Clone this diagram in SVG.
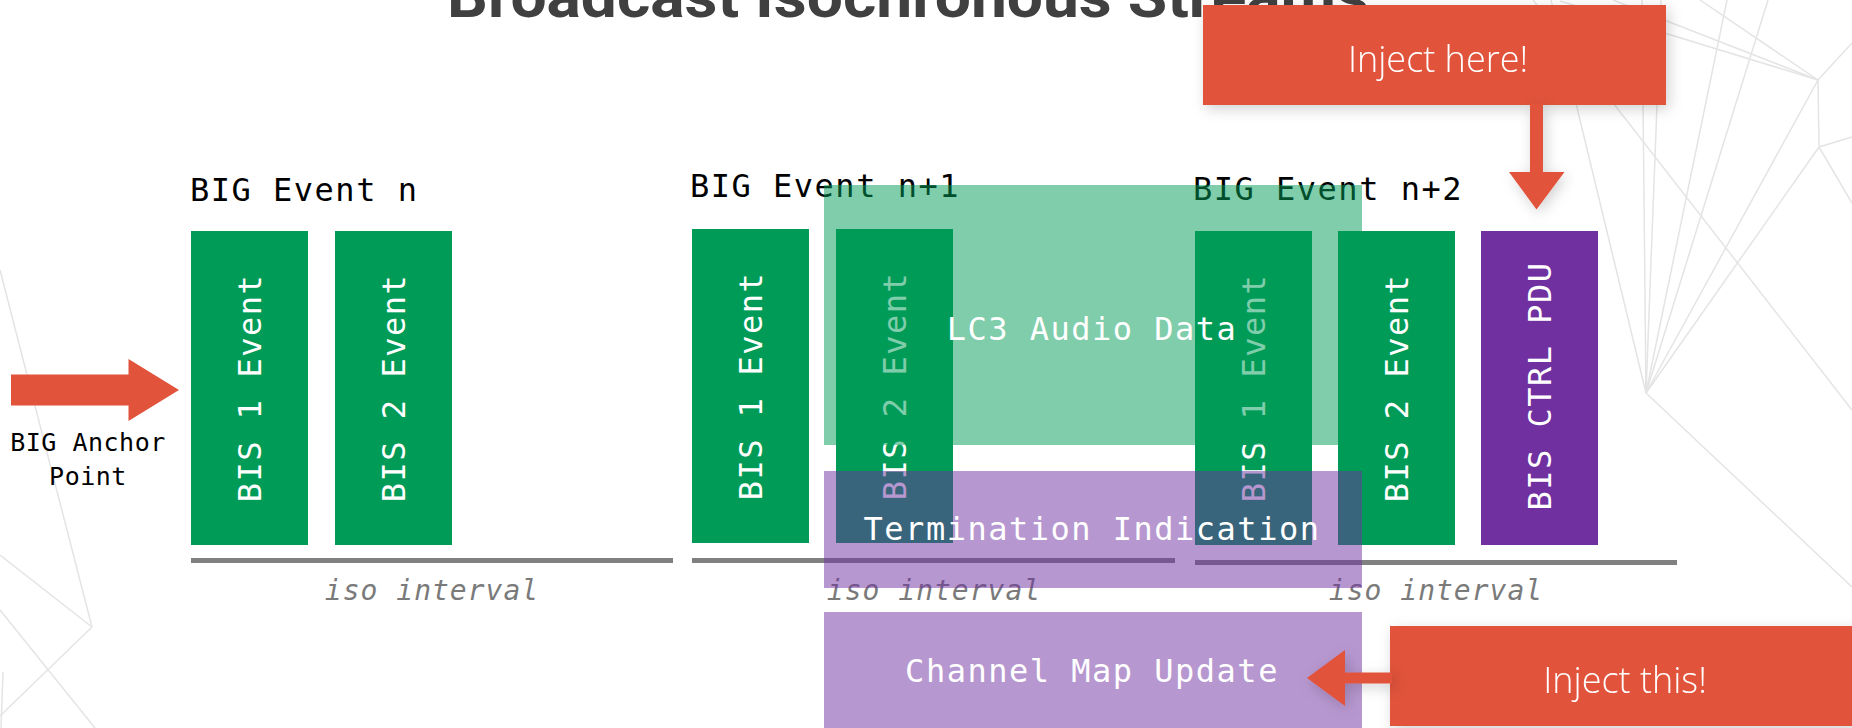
<svg xmlns="http://www.w3.org/2000/svg" width="1852" height="728" viewBox="0 0 1852 728">
  <defs>
    <style>
      .bg { stroke: #e4e4e4; stroke-width: 1.5; fill: none; }
      .mono { font-family: "DejaVu Sans Mono", "Liberation Mono", monospace; font-size: 32px; letter-spacing: 1.5px; }
      .label { fill: #000000; }
      .vtext { fill: #ffffff; text-anchor: middle; }
      .bis { fill: #009b57; }
      .ctrl { fill: #7030a0; }
      .axis { fill: #808080; }
      .iso { font-family: "DejaVu Sans Mono", "Liberation Mono", monospace; font-size: 28px; font-style: italic; letter-spacing: 1px; fill: #7a7a7a; text-anchor: middle; }
      .veil-green { fill: #009b57; fill-opacity: 0.5; }
      .veil-purple { fill: #7030a0; fill-opacity: 0.5; }
      .veil-text { fill: #ffffff; text-anchor: middle; }
      .callout { fill: #e1533b; }
      .callout-text { font-family: "Open Sans", "Liberation Sans", sans-serif; font-size: 36px; font-weight: 300; fill: #ffffff; text-anchor: middle; }
      .anchor-text { font-family: "DejaVu Sans Mono", "Liberation Mono", monospace; font-size: 25px; letter-spacing: 0.5px; fill: #000000; text-anchor: middle; }
    </style>
    <filter id="lift" x="-20%" y="-40%" width="140%" height="180%">
      <feDropShadow dx="3" dy="4" stdDeviation="7" flood-color="#000000" flood-opacity="0.18"/>
    </filter>
  </defs>

  <rect x="0" y="0" width="1852" height="728" fill="#ffffff"/>

  <!-- faint low-poly backdrop -->
  <g id="backdrop" class="bg">
    <line x1="0" y1="270" x2="92" y2="627"/>
    <line x1="0" y1="555" x2="92" y2="627"/>
    <line x1="92" y1="627" x2="0" y2="716"/>
    <line x1="0" y1="610" x2="95" y2="728"/>
    <line x1="3" y1="672" x2="1" y2="728"/>
    <line x1="1818" y1="80" x2="1819" y2="147"/>
    <line x1="1818" y1="80" x2="1852" y2="43"/>
    <line x1="1819" y1="147" x2="1852" y2="137"/>
    <line x1="1819" y1="147" x2="1852" y2="203"/>
    <line x1="1818" y1="80" x2="1646" y2="393"/>
    <line x1="1819" y1="147" x2="1646" y2="393"/>
    <line x1="1646" y1="393" x2="1852" y2="587"/>
    <line x1="1642" y1="0" x2="1646" y2="393"/>
    <line x1="1661" y1="0" x2="1646" y2="393"/>
    <line x1="1727" y1="0" x2="1646" y2="393"/>
    <line x1="1768" y1="0" x2="1646" y2="393"/>
    <line x1="1551" y1="0" x2="1646" y2="393"/>
    <line x1="1533" y1="0" x2="1852" y2="410"/>
    <line x1="1613" y1="0" x2="1818" y2="80"/>
    <line x1="1560" y1="1" x2="1818" y2="80"/>
    <line x1="1700" y1="0" x2="1818" y2="80"/>
  </g>

  <text id="title" x="447" y="17" font-family="Roboto, 'Open Sans', 'Liberation Sans', sans-serif" font-size="60" font-weight="700" fill="#404040" textLength="922" lengthAdjust="spacingAndGlyphs">Broadcast Isochronous Streams</text>

  <!-- BIG event n -->
  <g id="big-event-n">
    <text class="mono label" x="190" y="201">BIG Event n</text>
    <g id="n-bis1">
      <rect class="bis" x="191" y="231" width="117" height="314"/>
      <text class="mono vtext" transform="translate(261,388) rotate(-90)">BIS 1 Event</text>
    </g>
    <g id="n-bis2">
      <rect class="bis" x="335" y="231" width="117" height="314"/>
      <text class="mono vtext" transform="translate(405,388) rotate(-90)">BIS 2 Event</text>
    </g>
    <rect class="axis" x="191" y="558" width="482" height="5"/>
    <text class="iso" x="432" y="600">iso interval</text>
  </g>

  <!-- BIG event n+1 -->
  <g id="big-event-n1">
    <text class="mono label" x="690" y="197">BIG Event n+1</text>
    <g id="n1-bis1">
      <rect class="bis" x="692" y="229" width="117" height="314"/>
      <text class="mono vtext" transform="translate(762,386) rotate(-90)">BIS 1 Event</text>
    </g>
    <g id="n1-bis2">
      <rect class="bis" x="836" y="229" width="117" height="314"/>
      <text class="mono vtext" transform="translate(906,386) rotate(-90)">BIS 2 Event</text>
    </g>
    <rect class="axis" x="692" y="558" width="483" height="5"/>
    <text class="iso" x="934" y="600">iso interval</text>
  </g>

  <!-- BIG event n+2 -->
  <g id="big-event-n2">
    <text class="mono label" x="1193" y="200">BIG Event n+2</text>
    <g id="n2-bis1">
      <rect class="bis" x="1195" y="231" width="117" height="314"/>
      <text class="mono vtext" transform="translate(1265,388) rotate(-90)">BIS 1 Event</text>
    </g>
    <g id="n2-bis2">
      <rect class="bis" x="1338" y="231" width="117" height="314"/>
      <text class="mono vtext" transform="translate(1408,388) rotate(-90)">BIS 2 Event</text>
    </g>
    <g id="n2-ctrl">
      <rect class="ctrl" x="1481" y="231" width="117" height="314"/>
      <text class="mono vtext" transform="translate(1551,386) rotate(-90)">BIS CTRL PDU</text>
    </g>
    <rect class="axis" x="1195" y="560" width="482" height="5"/>
    <text class="iso" x="1436" y="600">iso interval</text>
  </g>

  <!-- translucent payload blocks -->
  <g id="lc3-audio-data">
    <rect class="veil-green" x="824" y="185" width="538" height="260"/>
    <text class="mono veil-text" x="1092" y="340">LC3 Audio Data</text>
  </g>
  <g id="termination-indication">
    <rect class="veil-purple" x="824" y="471" width="538" height="117"/>
    <text class="mono veil-text" x="1092" y="540">Termination Indication</text>
  </g>
  <g id="channel-map-update">
    <rect class="veil-purple" x="824" y="612" width="538" height="120"/>
    <text class="mono veil-text" x="1092" y="682">Channel Map Update</text>
  </g>

  <!-- anchor point marker -->
  <g id="big-anchor-point">
    <text class="anchor-text" x="88" y="451">BIG Anchor</text>
    <text class="anchor-text" x="88" y="485">Point</text>
  </g>

  <!-- callouts -->
  <g id="inject-here" filter="url(#lift)">
    <rect class="callout" x="1203" y="5" width="463" height="100"/>
    <text class="callout-text" x="1438" y="72">Inject here!</text>
  </g>
  <g id="inject-this" filter="url(#lift)">
    <rect class="callout" x="1390" y="626" width="470" height="100"/>
    <text class="callout-text" x="1625" y="693">Inject this!</text>
  </g>

  <g id="connectors">
    <polygon class="callout" points="11,374.5 128.5,374.5 128.5,359 179,390 128.5,421 128.5,405.5 11,405.5"/>
    <polygon class="callout" filter="url(#lift)" points="1530,104 1543,104 1543,172 1564.5,172 1536.5,209.5 1509,172 1530,172"/>
    <polygon class="callout" filter="url(#lift)" points="1392,672.5 1345,672.5 1345,650 1307,678 1345,706 1345,683.5 1392,683.5"/>
  </g>
</svg>
